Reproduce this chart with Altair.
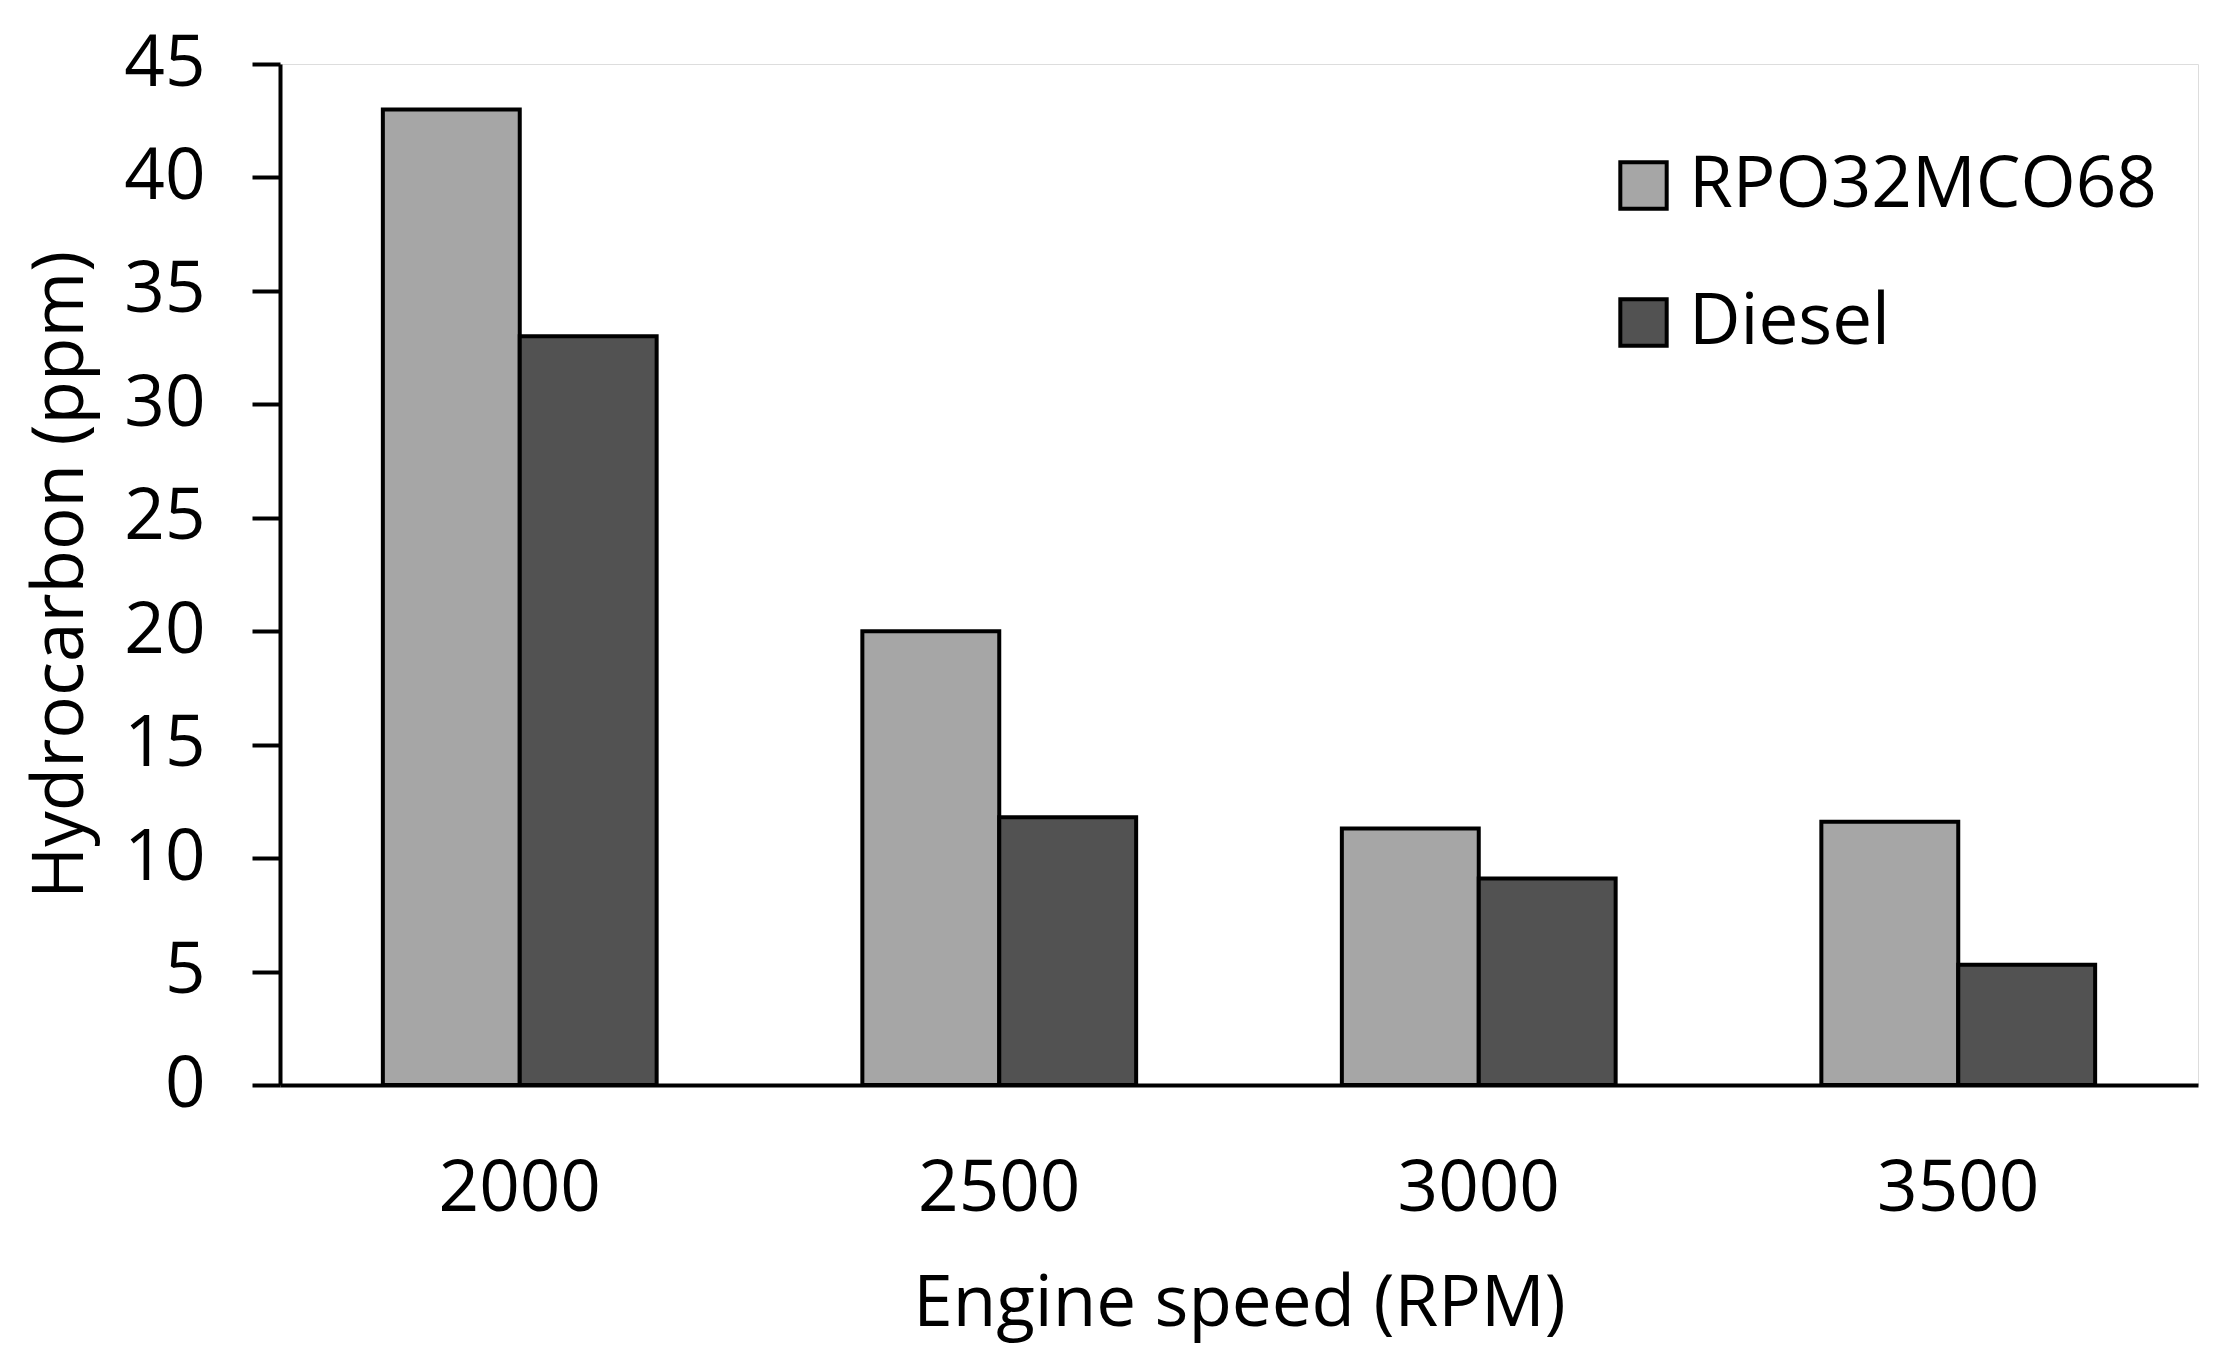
import altair as alt
import pandas as pd

speeds = ["2000", "2500", "3000", "3500"]
series = ["RPO32MCO68", "Diesel"]
rpo_values = [43.0, 20.0, 11.3, 11.6]
diesel_values = [33.0, 11.8, 9.1, 5.3]
y_ticks = [0, 5, 10, 15, 20, 25, 30, 35, 40, 45]

rows = []
for s, r, d in zip(speeds, rpo_values, diesel_values):
    rows.append({"speed": s, "fuel": series[0], "hc": r})
    rows.append({"speed": s, "fuel": series[1], "hc": d})
df = pd.DataFrame(rows)

FONT = "Open Sans"

chart = alt.Chart(df).mark_bar(stroke="black", strokeWidth=4).encode(
    x=alt.X("speed:N", sort=speeds,
            scale=alt.Scale(paddingInner=0.429, paddingOuter=0.2145),
            axis=alt.Axis(title="Engine speed (RPM)", labelAngle=0, ticks=False,
                          domainColor="black", domainWidth=4,
                          labelFont=FONT, labelFontSize=71, labelColor="black",
                          labelPadding=69, titleFont=FONT, titleFontSize=71,
                          titleFontWeight="normal", titleColor="black",
                          titlePadding=45)),
    xOffset=alt.XOffset("fuel:N", sort=series, scale=alt.Scale(paddingInner=0, paddingOuter=0)),
    y=alt.Y("hc:Q", scale=alt.Scale(domain=[0, 45], nice=False),
            axis=alt.Axis(title="Hydrocarbon (ppm)", values=y_ticks, grid=False,
                          tickSize=28, tickWidth=4, tickColor="black",
                          domainColor="black", domainWidth=4,
                          labelFont=FONT, labelFontSize=71, labelColor="black",
                          labelPadding=47, titleFont=FONT, titleFontSize=71,
                          titleFontWeight="normal", titleColor="black",
                          titlePadding=26)),
    color=alt.Color("fuel:N", sort=series,
                    scale=alt.Scale(domain=series, range=["#a6a6a6", "#525252"]),
                    legend=alt.Legend(title=None, orient="none", legendX=1328, legendY=86,
                                      symbolType="square", symbolSize=2150,
                                      symbolStrokeColor="black", symbolStrokeWidth=4,
                                      labelFont=FONT, labelFontSize=71, labelColor="black",
                                      labelLimit=0, labelOffset=10, rowPadding=65, padding=0)),
).properties(
    width=1918, height=1021,
    autosize=alt.AutoSizeParams(type="none"),
    padding={"left": 272, "top": 56, "right": 11, "bottom": 268},
).configure_view(stroke="black", strokeWidth=4).configure(background="white")

chart.save("out.html", embed_options={"renderer": "svg", "actions": False})
